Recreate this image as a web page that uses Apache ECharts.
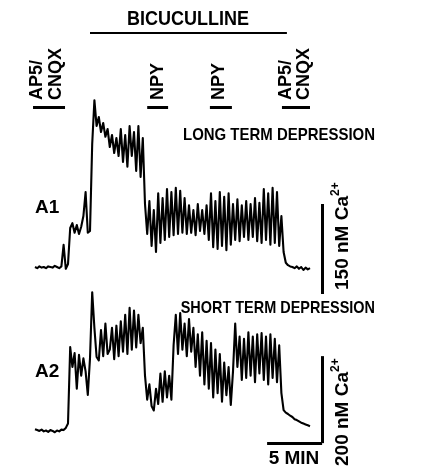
<!DOCTYPE html>
<html>
<head>
<meta charset="utf-8">
<script src="https://cdn.jsdelivr.net/npm/echarts@6/dist/echarts.min.js"></script>
<style>html,body{margin:0;padding:0;background:#fff;}#c{width:430px;height:468px;}</style>
</head>
<body>
<div id="c"></div>
<script>
// Sampling: traces start at 1.0 min, one sample every 0.2 min
const startMin = 1.0;
const stepMin = 0.2;

// Trace A1 (nM Ca2+), long term depression
const a1Values = [
  55, 53, 56, 54, 55, 53, 56, 55, 54, 57, 55, 53, 56, 92, 52,
  60, 120, 128, 112, 125, 110, 122, 140, 180, 112,
  115, 260, 333, 290, 305, 280, 295, 272, 285, 255, 275, 245, 270, 240, 285, 230, 275, 222, 290, 240, 280, 215, 290, 205, 270,
  160, 110, 165, 90, 150, 80, 178, 95, 170, 100, 185, 105,
  180, 108, 187, 110, 182, 112, 170, 110, 158, 112, 150, 108, 160, 115, 150, 110, 158, 100,
  178, 88, 165, 85, 180, 90, 172, 83, 178, 92, 160, 100, 168, 98, 158, 105, 165, 100, 160, 105,
  170, 98, 162, 95, 185, 100, 178, 92, 187, 95, 180, 90,
  140, 80, 62, 58, 56, 55, 53, 56, 52, 55, 50, 54, 51, 53
];

// Trace A2 (nM Ca2+), short term depression
const a2Values = [
  57, 55, 53, 56, 52, 54, 51, 55, 53, 50, 54, 52, 56, 55, 60,
  70, 246, 200, 232, 150, 228, 180, 220, 190, 136, 220,
  372, 290, 223, 215, 285, 225, 300, 230, 240, 290, 218, 295, 225, 305, 235, 320, 230, 336, 240, 330, 245, 320, 255, 290,
  180, 125, 160, 110, 100, 150, 115, 185, 120, 190, 130, 180, 125,
  250, 320, 230, 324, 240, 300, 225, 310, 235, 290, 200, 275, 180, 280, 160, 260, 150, 255, 130, 240, 140, 230, 120, 210, 135, 200, 113, 190,
  300, 200, 270, 170, 265, 175, 280, 180, 270, 165, 275, 185, 278, 170, 270, 160, 275, 175, 265, 165, 250, 140,
  101, 95, 92, 88, 85, 80, 78, 75, 72, 70, 68, 66, 64
];

// Drug applications (minutes)
const drugNames = ['AP5/CNQX', 'NPY', 'NPY', 'AP5/CNQX'];
const drugSpans = [[0.82, 3.73], [11.2, 13.1], [16.9, 18.9], [23.45, 26.0]];
const bicucullineSpan = [6.0, 23.9];

// Scale bars
const scaleA1 = [10, 160];   // 150 nM
const scaleA2 = [25, 225];   // 200 nM
const timeBar = [22.1, 27.1]; // 5 min

function toPairs(vals) {
  return vals.map((v, i) => [+(startMin + i * stepMin).toFixed(2), v]);
}

const FF = '"Liberation Sans", Arial, Helvetica, sans-serif';
const BAR_Y = 322;      // y (nM, grid 1) where drug bars sit
const BIC_Y = 445;      // y (nM, grid 1) of bicuculline line

const chart = echarts.init(document.getElementById('c'), null, {renderer: 'canvas'});

const drugLines = drugSpans.map(s => [{coord: [s[0], BAR_Y]}, {coord: [s[1], BAR_Y]}]);

function vText(label, x, y, size) {
  return {
    type: 'text', x: x, y: y, rotation: Math.PI / 2,
    style: {text: label, x: 0, y: 0, align: 'left', verticalAlign: 'middle',
      fontFamily: FF, fontWeight: 'bold', fontSize: size, fill: '#000'}
  };
}
function hText(label, x, y, size, align, sx) {
  return {
    type: 'text', x: x, y: y, scaleX: sx || 1,
    style: {text: label, x: 0, y: 0, align: align, verticalAlign: 'middle',
      fontFamily: FF, fontWeight: 'bold', fontSize: size, fill: '#000'}
  };
}
function caText(amount, x, y) {
  return {
    type: 'text', x: x, y: y, rotation: Math.PI / 2,
    style: {
      text: '{m|' + amount + ' nM Ca}{s|2+}', x: 0, y: 0, align: 'left', verticalAlign: 'middle',
      fill: '#000',
      rich: {
        m: {fontFamily: FF, fontWeight: 'bold', fontSize: 19, lineHeight: 26, fill: '#000'},
        s: {fontFamily: FF, fontWeight: 'bold', fontSize: 12, lineHeight: 26, verticalAlign: 'top', fill: '#000'}
      }
    }
  };
}

const option = {
  animation: false,
  backgroundColor: '#fff',
  grid: [
    {left: 24, width: 308, top: 30, height: 270},
    {left: 24, width: 308, top: 280, height: 174}
  ],
  xAxis: [
    {gridIndex: 0, type: 'value', min: 0, max: 28, show: false},
    {gridIndex: 1, type: 'value', min: 0, max: 28, show: false}
  ],
  yAxis: [
    {gridIndex: 0, type: 'value', min: 0, max: 450, show: false},
    {gridIndex: 1, type: 'value', min: 0, max: 400, show: false}
  ],
  series: [
    {
      name: 'A1', type: 'line', xAxisIndex: 0, yAxisIndex: 0,
      data: toPairs(a1Values), showSymbol: false, symbol: 'none',
      lineStyle: {color: '#000', width: 2.1, join: 'round'}, clip: false,
      markLine: {
        silent: true, symbol: ['none', 'none'], label: {show: false},
        lineStyle: {color: '#000', type: 'solid'},
        data: [
          ...drugLines.map(d => [Object.assign({lineStyle: {width: 3, color: '#000', type: 'solid'}}, d[0]), d[1]]),
          [{coord: [bicucullineSpan[0], BIC_Y], lineStyle: {width: 2, color: '#000', type: 'solid'}}, {coord: [bicucullineSpan[1], BIC_Y]}],
          [{coord: [timeBar[1], scaleA1[0]], lineStyle: {width: 3, color: '#000', type: 'solid'}}, {coord: [timeBar[1], scaleA1[1]]}]
        ]
      }
    },
    {
      name: 'A2', type: 'line', xAxisIndex: 1, yAxisIndex: 1,
      data: toPairs(a2Values), showSymbol: false, symbol: 'none',
      lineStyle: {color: '#000', width: 2.1, join: 'round'}, clip: false,
      markLine: {
        silent: true, symbol: ['none', 'none'], label: {show: false},
        data: [
          [{coord: [timeBar[1], scaleA2[0]], lineStyle: {width: 3, color: '#000', type: 'solid'}}, {coord: [timeBar[1], scaleA2[1]]}],
          [{coord: [timeBar[0], scaleA2[0]], lineStyle: {width: 3, color: '#000', type: 'solid'}}, {coord: [timeBar[1], scaleA2[0]]}]
        ]
      }
    }
  ],
  graphic: [
    hText('BICUCULLINE', 188, 19, 20, 'center', 0.9),
    vText('AP5/', 37, 100, 18), vText('CNQX', 56, 100, 18),
    vText('NPY', 158, 100, 18),
    vText('NPY', 219, 100, 18),
    vText('AP5/', 286, 100, 18), vText('CNQX', 304, 100, 18),
    hText('LONG TERM DEPRESSION', 375, 135, 17, 'right', 0.88),
    hText('SHORT TERM DEPRESSION', 375, 308, 17, 'right', 0.85),
    hText('A1', 35, 208, 19, 'left', 1),
    hText('A2', 35, 372, 19, 'left', 1),
    caText('150', 343, 290),
    caText('200', 343, 466),
    hText('5 MIN', 294, 459, 19, 'center', 1)
  ]
};
chart.setOption(option);
</script>
</body>
</html>
